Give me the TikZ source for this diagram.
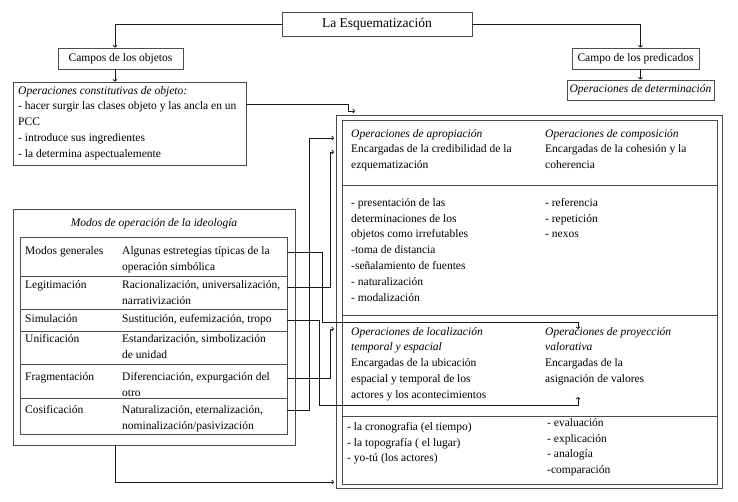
\documentclass[tikz,border=0pt]{standalone}
\usepackage{fontspec}
\setmainfont{Liberation Serif}
\usetikzlibrary{arrows.meta}

\newcommand\cuerpo{\fontsize{11.5}{15.8}\selectfont}

\tikzset{
  caja/.style={draw=black!70, line width=0.8pt, inner sep=0pt},
  flecha/.style={draw=black!90, line width=0.8pt, -{To[length=2.5pt,width=4.5pt]}},
  texto/.style={anchor=north west, inner sep=0pt, align=left, font=\cuerpo},
}

\begin{document}
\begin{tikzpicture}[x=1pt,y=-1pt]
\useasboundingbox (0,0) rectangle (738,501);

% cabecera
\node[caja, minimum width=190pt, minimum height=24pt, font=\fontsize{13.5}{16}\selectfont] (esq) at (377,24) {La Esquematización};
\node[caja, minimum width=125pt, minimum height=21pt, font=\cuerpo] (objetos) at (120.5,58.5) {Campos de los objetos};
\node[caja, minimum width=127pt, minimum height=21pt, font=\cuerpo] (predicados) at (635.5,58.5) {Campo de los predicados};
\node[caja, minimum width=147pt, minimum height=20pt, font=\cuerpo\itshape] (determ) at (640.5,90) {Operaciones de determinación};

\node[caja, minimum width=233pt, minimum height=83pt] (constit) at (129.5,123.5) {};
\node[texto] (constxt) at (18,86) {\textit{Operaciones constitutivas de objeto:}\\- hacer surgir las clases objeto y las ancla en un\\PCC\\- introduce sus ingredientes\\- la determina aspectualemente};

\draw[flecha] (esq.west) -| ([xshift=-5.5pt]objetos.north);
\draw[flecha] (esq.east) -| (predicados.north -| determ.north);
\draw[flecha] ([xshift=-5.5pt]objetos.south) -- ([xshift=-5.5pt]objetos.south |- constit.north);
\draw[flecha] (predicados.south -| determ.north) -- (determ.north);

% modos de operacion
\node[caja, minimum width=282pt, minimum height=236pt] (modos) at (154,327) {};
\node[inner sep=0pt, font=\cuerpo\itshape] (titulo) at (154,224) {Modos de operación de la ideología};
\draw[caja] (20,237) rectangle (287,434);
\foreach \y in {276,309,331,364,398}
  \draw[caja] (20,\y) -- (287,\y);

\foreach \y/\a/\b [count=\i] in {
  246/Modos generales/{Algunas estretegias típicas de la\\operación simbólica},
  280/Legitimación/{Racionalización, universalización,\\narrativización},
  314/Simulación/{Sustitución, eufemización, tropo},
  334/Unificación/{Estandarización, simbolización\\de unidad},
  372/Fragmentación/{Diferenciación, expurgación del\\otro},
  405/Cosificación/{Naturalización, eternalización,\\nominalización/pasivización}}
{
  \node[texto] (modo\i) at (25,\y) {\a};
  \node[texto] (estr\i) at (122,\y) {\b};
}

% cuadro de operaciones
\node[caja, minimum width=386pt, minimum height=373pt] (marco) at (529,301.5) {};
\draw[caja] (342,120) rectangle (717,484);
\foreach \y in {185,315,416}
  \draw[caja] (342,\y) -- (717,\y);

\node[texto] (apro) at (351,129) {\textit{Operaciones de apropiación}\\Encargadas de la credibilidad de la\\ezquematización};
\node[texto] (compo) at (545,129) {\textit{Operaciones de composición}\\Encargadas de la cohesión y la\\coherencia};
\node[texto] (aprolista) at (351,198) {- presentación de las\\determinaciones de los\\objetos como irrefutables\\-toma de distancia\\-señalamiento de fuentes\\- naturalización\\- modalización};
\node[texto] (compolista) at (545,198) {- referencia\\- repetición\\- nexos};
\node[texto] (local) at (351,327) {\textit{Operaciones de localización}\\\textit{temporal y espacial}\\Encargadas de la ubicación\\espacial y temporal de los\\actores y los acontecimientos};
\node[texto] (proye) at (545,327) {\textit{Operaciones de proyección}\\\textit{valorativa}\\Encargadas de la\\asignación de valores};
\node[texto] (locallista) at (347,422) {- la cronografia (el tiempo)\\- la topografía ( el lugar)\\- yo-tú (los actores)};
\node[texto] (proyelista) at (547,418) {- evaluación\\- explicación\\- analogía\\-comparación};

% conectores
\coordinate (c0) at (246,104);
\coordinate (t0) at (355,111);
\coordinate (s1) at (287,252);
\coordinate (s2) at (287,287);
\coordinate (s3) at (287,320);
\coordinate (s4) at (287,378);
\coordinate (s5) at (287,410);
\coordinate (t1) at (334,138);
\coordinate (t2) at (334,152);
\coordinate (t3) at (578,329);
\coordinate (t4) at (578,397);
\coordinate (t5) at (334,329);
\coordinate (t6) at (334,482);

\draw[flecha] (c0) -- ++(102,0) |- (t0);
\draw[flecha] (s5) -- ++(22,0) |- (t1);
\draw[flecha] (s2) -- ++(43,0) |- (t2);
\draw[flecha] (s1) -- ++(35,0) -- ++(0,70) -| (t3);
\draw[flecha] (s3) -- ++(32,0) -- ++(0,85) -| (t4);
\draw[flecha] (s4) -- ++(43,0) |- (t5);
\draw[flecha] ([xshift=-39pt]modos.south) |- (t6);
\end{tikzpicture}
\end{document}
